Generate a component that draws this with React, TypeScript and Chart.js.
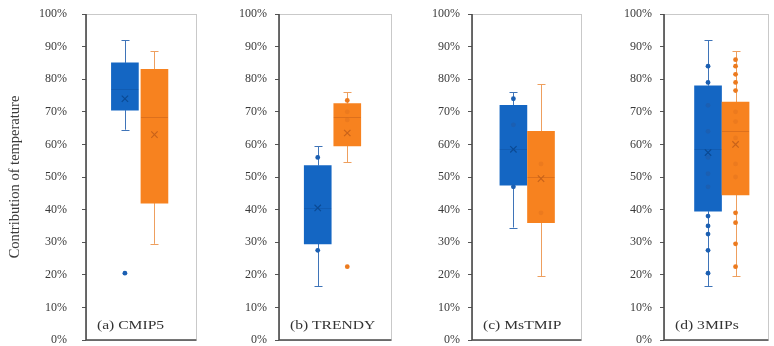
import React, { useEffect, useRef } from 'react';
import { Chart, registerables } from 'chart.js';
Chart.register(...registerables);

// ---- data (percent) ----
const panelLabels = ['(a) CMIP5', '(b) TRENDY', '(c) MsTMIP', '(d) 3MIPs'];
const yTicks = [0, 10, 20, 30, 40, 50, 60, 70, 80, 90, 100];
const yTitle = 'Contribution of temperature';

const blueMin = [64.5, 16.5, 34.5, 16.5];
const blueQ1 = [70.5, 29.5, 47.5, 39.5];
const blueMedian = [77, 40.5, 58.5, 58.5];
const blueQ3 = [85, 53.5, 72, 78];
const blueMax = [92, 59.5, 76, 92];
const blueMean = [74, 40.5, 58.5, 57.5];
const bluePoints = [
  [],
  [56, 27.5],
  [74, 66, 47],
  [84, 79, 72, 64, 56, 51, 47, 38, 35, 32.5, 27.5, 20.5],
];
const blueOutliers = [[20.5], [], [], []];

const orangeMin = [29.5, 54.5, 19.5, 19.5];
const orangeQ1 = [42, 59.5, 36, 44.5];
const orangeMedian = [68.5, 68.5, 50, 64];
const orangeQ3 = [83, 72.5, 64, 73];
const orangeMax = [88.5, 76, 78.5, 88.5];
const orangeMean = [63, 63.5, 49.5, 60];
const orangePoints = [
  [],
  [73.5, 70, 67.5],
  [54, 39],
  [86, 84, 81.5, 79, 76.5, 70, 67, 62, 54, 50, 39, 36, 29.5, 22.5],
];
const orangeOutliers = [[], [22.5], [], []];

// ---- layout / style ----
const boxPos = [1, 2];
const panelLayout = [
  { left: 0, width: 202, axisW: 86, tickPad: 15, xMin: -0.317, xMax: 3.417, title: true },
  { left: 202, width: 195, axisW: 77, tickPad: 8, xMin: -0.311, xMax: 3.49, title: false },
  { left: 397, width: 190, axisW: 75, tickPad: 8, xMin: -0.5, xMax: 3.46, title: false },
  { left: 587, width: 187, axisW: 77, tickPad: 8, xMin: -0.6, xMax: 3.19, title: false },
];
const BLUE = { fill: '#1466C3', dark: '#0B4A94', point: '#1B5FB2', whisker: '#3F74B8' };
const ORANGE = { fill: '#F7821F', dark: '#C9631A', point: '#EC7A1E', whisker: '#EE9F5E' };
const FONT = "'Liberation Serif', 'Times New Roman', serif";

function Panel({ idx }: { idx: number }) {
  const ref = useRef<HTMLCanvasElement>(null);
  useEffect(() => {
    const L = panelLayout[idx];
    const stats = [
      { pos: boxPos[0], c: BLUE, a: 0.35, min: blueMin[idx], q1: blueQ1[idx], med: blueMedian[idx], q3: blueQ3[idx], max: blueMax[idx] },
      { pos: boxPos[1], c: ORANGE, a: 0.55, min: orangeMin[idx], q1: orangeQ1[idx], med: orangeMedian[idx], q3: orangeQ3[idx], max: orangeMax[idx] },
    ];
    const extras = {
      id: 'extras' + idx,
      beforeDatasetsDraw(chart: any) {
        const { ctx } = chart;
        const xs = chart.scales.x, ys = chart.scales.y;
        ctx.save();
        stats.forEach((s) => {
          const x = Math.round(xs.getPixelForValue(s.pos)) + 0.5;
          ctx.strokeStyle = s.c.whisker;
          ctx.lineWidth = 1;
          ctx.beginPath();
          ctx.moveTo(x, ys.getPixelForValue(s.min));
          ctx.lineTo(x, ys.getPixelForValue(s.q1));
          ctx.moveTo(x, ys.getPixelForValue(s.q3));
          ctx.lineTo(x, ys.getPixelForValue(s.max));
          [s.min, s.max].forEach((v) => {
            const y = Math.round(ys.getPixelForValue(v)) + 0.5;
            ctx.moveTo(x - 4, y);
            ctx.lineTo(x + 4, y);
          });
          ctx.stroke();
        });
        ctx.restore();
      },
      afterDatasetsDraw(chart: any) {
        const { ctx } = chart;
        const xs = chart.scales.x, ys = chart.scales.y;
        ctx.save();
        stats.forEach((s) => {
          const x = xs.getPixelForValue(s.pos);
          const y = Math.round(ys.getPixelForValue(s.med)) + 0.5;
          ctx.strokeStyle = s.c.dark;
          ctx.globalAlpha = s.a;
          ctx.lineWidth = 1;
          ctx.beginPath();
          ctx.moveTo(x - 13.5, y);
          ctx.lineTo(x + 13.5, y);
          ctx.stroke();
        });
        ctx.restore();
      },
      afterDraw(chart: any) {
        const { ctx, chartArea: a } = chart;
        ctx.save();
        ctx.strokeStyle = '#c9c9c9';
        ctx.lineWidth = 1;
        ctx.strokeRect(Math.round(a.left) + 0.5, Math.round(a.top) + 0.5, Math.round(a.right - a.left), Math.round(a.bottom - a.top));
        ctx.strokeStyle = '#4a4a4a';
        ctx.lineWidth = 1.6;
        ctx.beginPath();
        ctx.moveTo(a.left, a.top);
        ctx.lineTo(a.left, a.bottom);
        ctx.lineTo(a.right, a.bottom);
        ctx.stroke();
        ctx.fillStyle = '#333';
        ctx.font = `13px ${FONT}`;
        ctx.textBaseline = 'middle';
        ctx.translate(a.left + 11, a.bottom - 14);
        ctx.scale(1.2, 1);
        ctx.fillText(panelLabels[idx], 0, 0);
        ctx.restore();
      },
    };
    const chart = new Chart(ref.current!, {
      type: 'scatter',
      data: {
        datasets: [
          {
            type: 'bar',
            data: stats.map((s) => ({ x: s.pos, y: [s.q1, s.q3] })) as any,
            backgroundColor: [BLUE.fill, ORANGE.fill],
            borderWidth: 0,
            barThickness: 27,
            grouped: false,
            order: 3,
          } as any,
          {
            data: bluePoints[idx].concat(blueOutliers[idx]).map((v) => ({ x: boxPos[0], y: v })),
            pointStyle: 'circle',
            pointRadius: 2.4,
            backgroundColor: BLUE.point,
            borderWidth: 0,
            order: 2,
          },
          {
            data: orangePoints[idx].concat(orangeOutliers[idx]).map((v) => ({ x: boxPos[1], y: v })),
            pointStyle: 'circle',
            pointRadius: 2.4,
            backgroundColor: ORANGE.point,
            borderWidth: 0,
            order: 2,
          },
          {
            data: [
              { x: boxPos[0], y: blueMean[idx] },
              { x: boxPos[1], y: orangeMean[idx] },
            ],
            pointStyle: 'crossRot',
            pointRadius: 4.5,
            borderColor: [BLUE.dark, ORANGE.dark],
            borderWidth: 1.2,
            order: 1,
          },
        ],
      },
      options: {
        animation: false,
        responsive: false,
        layout: { padding: { top: 14, bottom: 6, right: 2, left: 0 } },
        plugins: { legend: { display: false }, tooltip: { enabled: false } },
        scales: {
          x: { type: 'linear', min: L.xMin, max: L.xMax, offset: false, display: false },
          y: {
            min: 0,
            max: 100,
            afterBuildTicks: (s: any) => {
              s.ticks = yTicks.map((v) => ({ value: v }));
            },
            afterFit: (s: any) => {
              s.width = L.axisW;
              s.paddingTop = 0;
              s.paddingBottom = 0;
            },
            border: { display: false },
            grid: { drawOnChartArea: false, drawTicks: true, tickLength: 4, color: '#555' },
            ticks: {
              padding: L.tickPad,
              color: '#3a3a3a',
              font: { family: FONT, size: 12 },
              callback: (v: any) => `${v}%`,
            },
            title: {
              display: L.title,
              text: yTitle,
              color: '#3a3a3a',
              font: { family: FONT, size: 14.5 },
              padding: { top: 6, bottom: 0 },
            },
          },
        },
      },
      plugins: [extras],
    });
    return () => chart.destroy();
  }, [idx]);
  const L = panelLayout[idx];
  return (
    <div style={{ position: 'absolute', left: L.left, top: 0, width: L.width, height: 346 }}>
      <canvas ref={ref} width={L.width} height={346} />
    </div>
  );
}

export default function App() {
  return (
    <div style={{ position: 'absolute', left: 0, top: 0, width: 774, height: 346, background: '#fff', overflow: 'hidden' }}>
      {panelLabels.map((_, i) => (
        <Panel key={i} idx={i} />
      ))}
    </div>
  );
}
